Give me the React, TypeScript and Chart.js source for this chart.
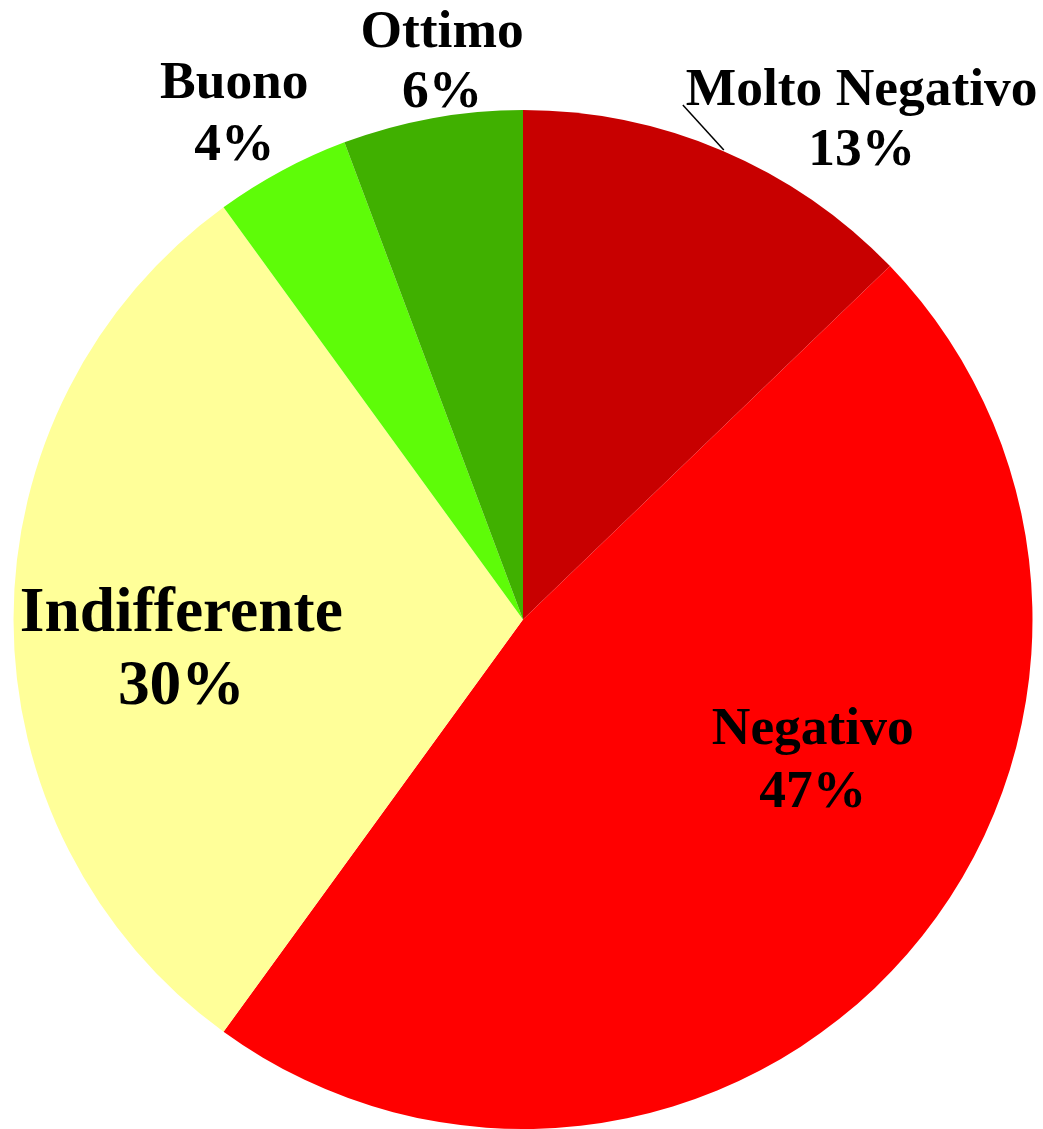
import React, { useEffect, useRef } from "react";
import { Chart, registerables } from "chart.js";

Chart.register(...registerables);

const categories = ["Molto Negativo", "Negativo", "Indifferente", "Buono", "Ottimo"];
const values = [12.8, 47.2, 30.0, 4.3, 5.7];
const percentLabels = ["13%", "47%", "30%", "4%", "6%"];
const colors = ["#C80000", "#FF0000", "#FFFF99", "#5EFC08", "#40B000"];

// label placement relative to pie center, in px at reference radius 510
const labelLayout = [
  { dx: 339, dy: -515, size: 53.5, lead: 60 },
  { dx: 290, dy: 125, size: 53.5, lead: 63 },
  { dx: -342, dy: 12, size: 63.5, lead: 73 },
  { dx: -289, dy: -522, size: 53.5, lead: 62 },
  { dx: -81, dy: -573, size: 53.5, lead: 60 },
];
const leaderLine = { from: [160, -515], to: [201, -470] };

const labelPlugin = {
  id: "pieLabels",
  afterDatasetsDraw(chart: any) {
    const meta = chart.getDatasetMeta(0);
    const arc = meta.data[0];
    if (!arc) return;
    const { x: cx, y: cy, outerRadius } = arc.getProps(["x", "y", "outerRadius"], true);
    const k = outerRadius / 510;
    const ctx = chart.ctx;
    ctx.save();
    ctx.fillStyle = "#000";
    ctx.textAlign = "center";
    ctx.textBaseline = "alphabetic";
    categories.forEach((name, i) => {
      const l = labelLayout[i];
      ctx.font = `bold ${l.size * k}px "Liberation Serif", "Times New Roman", serif`;
      const x = cx + l.dx * k;
      const y = cy + l.dy * k;
      ctx.fillText(name, x, y);
      ctx.fillText(percentLabels[i], x, y + l.lead * k);
    });
    ctx.strokeStyle = "#000";
    ctx.lineWidth = 1.5;
    ctx.beginPath();
    ctx.moveTo(cx + leaderLine.from[0] * k, cy + leaderLine.from[1] * k);
    ctx.lineTo(cx + leaderLine.to[0] * k, cy + leaderLine.to[1] * k);
    ctx.stroke();
    ctx.restore();
  },
};

export default function App() {
  const ref = useRef<HTMLCanvasElement | null>(null);
  useEffect(() => {
    document.body.style.margin = "0";
    const canvas = ref.current;
    if (!canvas) return;
    const chart = new Chart(canvas, {
      type: "pie",
      data: {
        labels: categories,
        datasets: [
          {
            data: values,
            backgroundColor: colors,
            borderWidth: 0,
          },
        ],
      },
      options: {
        responsive: false,
        animation: false,
        layout: { padding: { left: 12, right: 9, top: 110, bottom: 0 } },
        plugins: {
          legend: { display: false },
          tooltip: { enabled: false },
        },
      },
      plugins: [labelPlugin],
    });
    return () => chart.destroy();
  }, []);
  return (
    <div style={{ position: "absolute", left: 0, top: 0, width: 1043, height: 1129, background: "#fff" }}>
      <canvas ref={ref} width={1043} height={1129} style={{ display: "block" }} />
    </div>
  );
}
